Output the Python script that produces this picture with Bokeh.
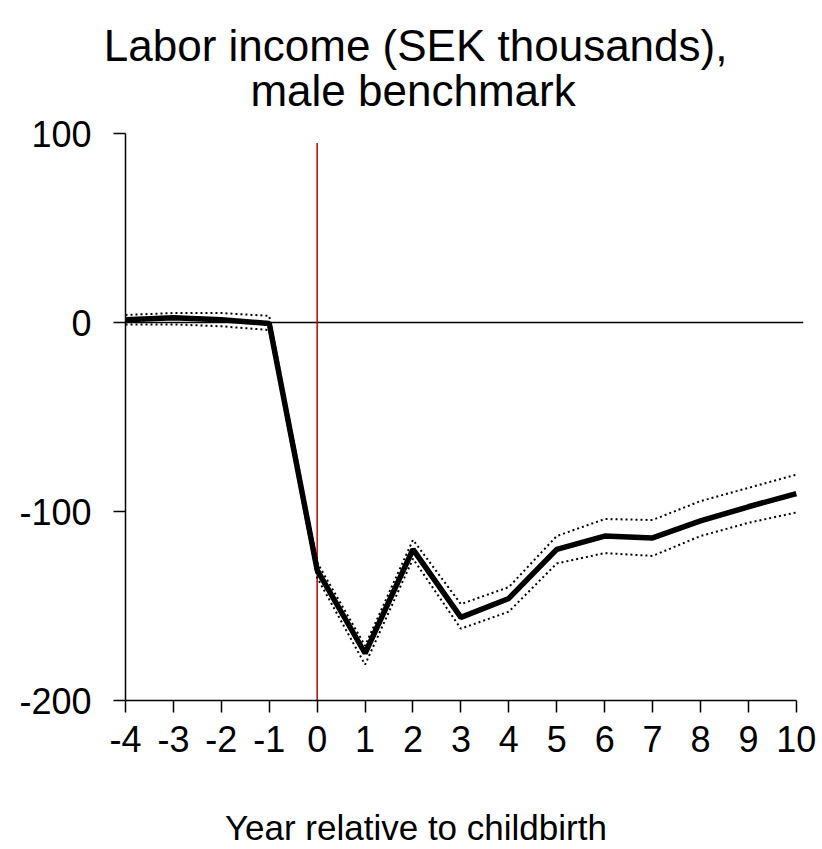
from bokeh.plotting import figure
from bokeh.models import Range1d, FixedTicker
from bokeh.embed import file_html
from bokeh.resources import INLINE

years = [-4, -3, -2, -1, 0, 1, 2, 3, 4, 5, 6, 7, 8, 9, 10]
year_labels = ["-4", "-3", "-2", "-1", "0", "1", "2", "3", "4", "5", "6", "7", "8", "9", "10"]
estimate = [1.5, 2.5, 1.5, -0.5, -131, -175, -120, -156, -146, -120, -113, -114, -105, -97.5, -90.5]
upper = [4, 5, 5, 3.5, -127, -171, -115, -149, -140, -113, -104, -104.5, -94.5, -87.5, -80.5]
lower = [-1, -1, -2, -4, -135, -181, -125, -162, -153, -127.5, -122, -123.5, -113, -106, -100.5]
y_ticks = [-200, -100, 0, 100]
y_labels = ["-200", "-100", "0", "100"]
zero_line_x = [-4, 10.15]
zero_line_y = [0, 0]
event_x = [0, 0]
event_y = [-200, 95]
title_line1 = "Labor income (SEK thousands),"
title_line2 = "male benchmark"
x_title = "Year relative to childbirth"

FONT = "Liberation Sans"
NB = "\u00a0"

p = figure(width=822, height=849, output_backend="svg", toolbar_location=None,
           x_range=Range1d(-4, 10.15), y_range=Range1d(-200, 100))
p.min_border_left = 125
p.min_border_right = 19
p.min_border_top = 133
p.min_border_bottom = 149
p.outline_line_color = None
p.xgrid.visible = False
p.ygrid.visible = False
p.background_fill_color = "white"
p.border_fill_color = "white"

# two-line title; non-breaking spaces place the lines centred left of the frame centre
p.title.text = title_line1 + NB * 8 + "\n" + NB * 12 + title_line2
p.title.align = "center"
p.title.text_font = FONT
p.title.text_font_size = "44px"
p.title.text_font_style = "normal"
p.title.text_color = "black"
p.title.standoff = 36
try:
    p.title.text_line_height = 0.92
except Exception:
    pass

# axes
xa = p.xaxis[0]
xa.ticker = FixedTicker(ticks=years)
xa.major_label_overrides = dict(zip(years, year_labels))
xa.bounds = (-4, 10)
xa.major_tick_out = 12
xa.major_tick_in = 0
xa.minor_tick_out = 0
xa.minor_tick_in = 0
xa.major_label_text_font = FONT
xa.major_label_text_font_size = "36px"
xa.major_label_text_color = "black"
xa.major_label_standoff = 13
xa.axis_line_width = 1.5
xa.major_tick_line_width = 1.5
xa.axis_label = x_title + NB * 10
xa.axis_label_text_font = FONT
xa.axis_label_text_font_size = "35px"
xa.axis_label_text_font_style = "normal"
xa.axis_label_text_color = "black"
xa.axis_label_standoff = 53

ya = p.yaxis[0]
ya.ticker = FixedTicker(ticks=y_ticks)
ya.major_label_overrides = dict(zip(y_ticks, y_labels))
ya.bounds = (-200, 100)
ya.major_tick_out = 12
ya.major_tick_in = 0
ya.minor_tick_out = 0
ya.minor_tick_in = 0
ya.major_label_text_font = FONT
ya.major_label_text_font_size = "36px"
ya.major_label_text_color = "black"
ya.major_label_standoff = 22
ya.axis_line_width = 1.5
ya.major_tick_line_width = 1.5

# reference lines
p.line(zero_line_x, zero_line_y, line_color="black", line_width=1.5)
p.line(event_x, event_y, line_color="#C00000", line_width=1.5)

# confidence bounds
p.line(years, upper, line_color="black", line_width=2, line_dash="2 3")
p.line(years, lower, line_color="black", line_width=2, line_dash="2 3")
# estimate
p.line(years, estimate, line_color="black", line_width=5.5)

open("out.html", "w").write(file_html(p, INLINE))
